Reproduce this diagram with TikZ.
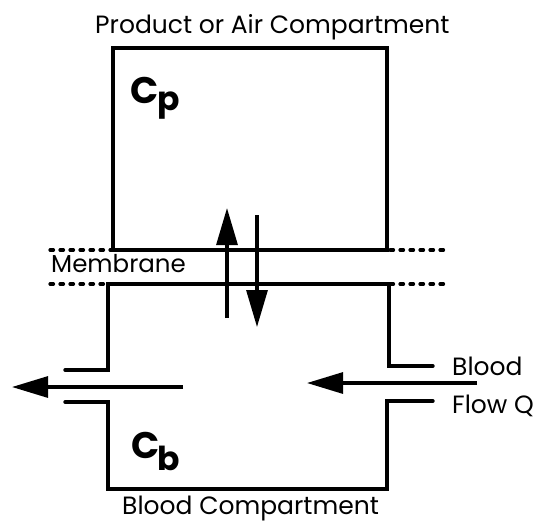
\documentclass[tikz,border=0pt]{standalone}
\usepackage{fontspec}
\setmainfont{Poppins}
\usetikzlibrary{arrows.meta}
\tikzset{
  wall/.style={line width=3.4pt, line join=miter, line cap=round},
  memline/.style={line width=3.2pt, line cap=round, dash pattern=on 3.5pt off 6.5pt},
  flowarrow/.style={line width=3.1pt, -{Triangle[length=36pt,width=21pt]}},
  lbl/.style={font=\fontsize{25}{28}\selectfont, inner sep=0pt, anchor=base west},
  conc/.style={font=\fontsize{37}{40}\selectfont\bfseries, inner sep=0pt, anchor=base west},
  sub/.style={font=\fontsize{33}{36}\selectfont\bfseries, inner sep=0pt, anchor=base west}
}
\begin{document}
\begin{tikzpicture}[x=1pt,y=-1pt]
\useasboundingbox (0,0) rectangle (535,523);
% membrane dotted lines
\coordinate (m1a) at (50,250); \coordinate (m1b) at (448,250);
\coordinate (m2a) at (50,284); \coordinate (m2b) at (448,284);
\draw[memline] (m1a) -- (m1b);
\draw[memline] (m2a) -- (m2b);
% top compartment
\coordinate (tl) at (113,48); \coordinate (br) at (387,250);
\draw[wall] (tl) rectangle (br);
% bottom compartment
\draw[wall] (65,370) -- (108,370) -- (108,284) -- (389,284) -- (389,366) -- (433,366);
\draw[wall] (65,402) -- (108,402) -- (108,489) -- (387,489) -- (387,401) -- (433,401);
% vertical exchange arrows
\coordinate (ua) at (227,318); \coordinate (ub) at (227,208);
\coordinate (da) at (257,215); \coordinate (db) at (257,327);
\draw[flowarrow, -{Triangle[length=37pt,width=21pt]}] (ua) -- (ub);
\draw[flowarrow, -{Triangle[length=37pt,width=21pt]}] (da) -- (db);
% blood flow arrows
\coordinate (la) at (183,387); \coordinate (lb) at (12,387);
\coordinate (ra) at (477,383); \coordinate (rb) at (307,383);
\draw[flowarrow] (la) -- (lb);
\draw[flowarrow] (ra) -- (rb);
% labels
\node[lbl] (ttl) at (95,33) {Product or Air Compartment};
\node[lbl, font=\fontsize{24.5}{28}\selectfont] (mem) at (51,272) {Membrane};
\node[lbl] (bl) at (452,375) {Blood};
\node[lbl] (fq) at (452,413) {Flow Q};
\node[lbl] (btl) at (122,514) {Blood Compartment};
% concentrations
\node[conc] (cp) at (130,103) {C};
\node[sub] (p) at (cp.base east) [xshift=-1pt, yshift=-7pt] {p};
\node[conc] (cb) at (131,458) {C};
\node[sub] (b) at (cb.base east) [xshift=-2pt, yshift=-12pt] {b};
\end{tikzpicture}
\end{document}
